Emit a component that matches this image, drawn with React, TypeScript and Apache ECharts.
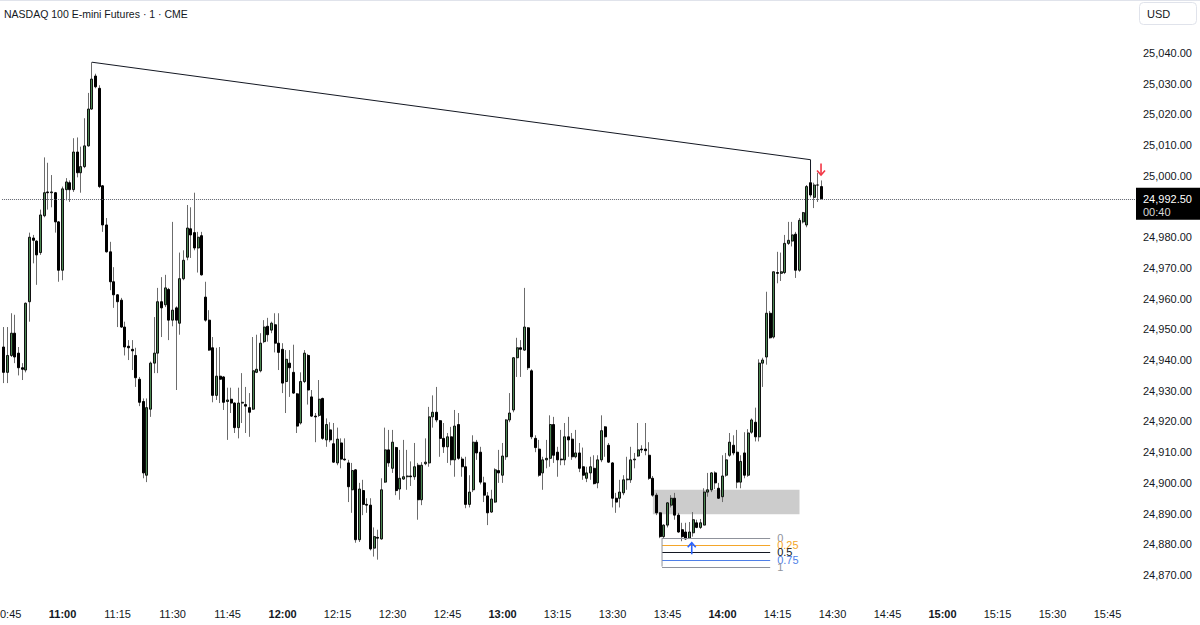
import React, { useEffect, useRef } from "react";
import * as echarts from "echarts";

const FONT = "'Liberation Sans', Arial, Helvetica, sans-serif";
const TEXT = "#131722";

const title = "NASDAQ 100 E-mini Futures · 1 · CME";
const currency = "USD";
const lastPrice = 24992.5;
const countdown = "00:40";
const firstBarMinute = 10 * 60 + 44;
const categoryCount = 309;
const xTickLabels = ["10:45", "11:00", "11:15", "11:30", "11:45", "12:00", "12:15", "12:30", "12:45", "13:00", "13:15", "13:30", "13:45", "14:00", "14:15", "14:30", "14:45", "15:00", "15:15", "15:30", "15:45"];
const boldTickLabels = ["11:00", "12:00", "13:00", "14:00", "15:00"];
const hiddenPriceLabel = 24990;
const maxPriceLabel = 25040;

const opens = [
  24944.25, 24936.0, 24941.5, 24948.75, 24942.25, 24937.5, 24936.75, 24959.0, 24979.75, 24978.75,
  24975.0, 24987.0, 24994.75, 24994.5, 24994.5, 24985.0, 24969.25, 24995.5, 24997.75, 24995.5,
  25007.75, 25001.0, 25003.0, 25009.75, 25021.75, 25032.5, 25028.5, 24996.75, 24984.0, 24975.25,
  24965.5, 24961.25, 24959.5, 24950.75, 24944.5, 24943.5, 24941.5, 24933.75, 24926.5, 24902.5,
  24924.0, 24939.0, 24942.25, 24959.0, 24958.0, 24963.0, 24953.0, 24957.0, 24952.0, 24966.5,
  24973.5, 24982.75, 24981.5, 24976.5, 24980.5, 24960.5, 24953.0, 24944.0, 24928.5, 24934.75,
  24934.5, 24926.5, 24927.25, 24926.0, 24918.0, 24926.0, 24925.5, 24924.5, 24924.0, 24936.0,
  24936.5, 24946.0, 24951.0, 24949.75, 24951.5, 24945.5, 24943.5, 24933.0, 24939.0, 24936.0,
  24929.0, 24919.5, 24933.0, 24941.5, 24928.0, 24921.75, 24922.0, 24927.5, 24914.0, 24917.25,
  24912.75, 24906.5, 24913.0, 24907.75, 24906.5, 24897.75, 24904.25, 24881.5, 24897.5, 24893.0,
  24892.75, 24878.75, 24882.25, 24881.75, 24900.25, 24910.75, 24904.75, 24911.5, 24898.0, 24901.25,
  24902.0, 24902.25, 24902.0, 24905.75, 24894.5, 24906.25, 24906.5, 24921.5, 24923.0, 24920.25,
  24914.5, 24911.75, 24915.0, 24907.5, 24919.0, 24907.75, 24905.25, 24893.0, 24897.75, 24913.25,
  24910.0, 24900.0, 24895.75, 24890.5, 24893.75, 24904.0, 24902.5, 24908.5, 24920.5, 24923.75,
  24940.75, 24944.0, 24943.25, 24950.5, 24936.5, 24914.5, 24911.0, 24903.25, 24907.5, 24908.0,
  24919.0, 24910.0, 24907.75, 24907.5, 24915.0, 24914.25, 24908.5, 24909.75, 24905.25, 24901.5,
  24903.25, 24904.75, 24900.0, 24907.5, 24918.25, 24912.25, 24906.5, 24895.0, 24895.0, 24896.75,
  24901.0, 24901.0, 24907.5, 24908.75, 24911.0, 24911.0, 24909.0, 24901.5, 24896.0, 24890.25,
  24882.5, 24886.25, 24892.75, 24895.0, 24889.5, 24884.75, 24884.0, 24882.0, 24883.75, 24887.0,
  24885.5, 24886.25, 24897.0, 24897.75, 24903.25, 24898.25, 24895.5, 24902.5, 24909.0, 24912.25,
  24910.0, 24900.25, 24909.75, 24902.5, 24916.5, 24919.75, 24915.0, 24939.0, 24941.0, 24955.25,
  24947.5, 24968.5, 24968.25, 24968.5, 24978.0, 24978.75, 24981.0, 24969.25, 24985.0, 24984.0,
  24997.75, 24993.0, 24997.0, 24996.5,
];

const closes = [
  24936.0, 24941.5, 24948.75, 24941.0, 24937.5, 24937.0, 24958.5, 24980.0, 24979.0, 24974.25,
  24987.25, 24994.5, 24994.5, 24994.75, 24985.0, 24969.25, 24995.75, 24998.0, 24995.5, 25007.75,
  25001.0, 25003.0, 25009.75, 25021.75, 25031.5, 25029.0, 24996.5, 24984.0, 24975.25, 24965.5,
  24961.25, 24959.0, 24950.75, 24944.25, 24944.0, 24943.0, 24934.25, 24926.25, 24903.25, 24924.5,
  24939.0, 24942.25, 24959.0, 24957.0, 24963.5, 24953.0, 24956.25, 24953.0, 24966.5, 24972.5,
  24983.0, 24980.75, 24976.5, 24980.0, 24967.75, 24953.0, 24943.25, 24928.5, 24934.75, 24933.75,
  24926.25, 24927.0, 24926.0, 24918.0, 24926.0, 24926.25, 24925.0, 24923.0, 24936.5, 24937.0,
  24945.5, 24950.75, 24948.25, 24952.0, 24945.5, 24942.5, 24932.5, 24940.25, 24937.5, 24929.25,
  24918.5, 24933.0, 24942.25, 24930.25, 24921.75, 24921.5, 24927.25, 24914.5, 24919.0, 24914.0,
  24906.75, 24914.25, 24907.75, 24907.5, 24898.75, 24904.0, 24881.5, 24898.0, 24893.0, 24892.75,
  24878.5, 24882.5, 24882.0, 24897.75, 24910.75, 24906.5, 24913.25, 24897.5, 24901.5, 24902.0,
  24902.25, 24902.0, 24905.25, 24894.5, 24905.75, 24906.75, 24921.5, 24923.0, 24920.5, 24914.5,
  24911.75, 24915.0, 24907.5, 24918.5, 24908.0, 24905.25, 24893.0, 24897.0, 24913.25, 24909.75,
  24900.25, 24896.0, 24890.25, 24894.75, 24904.25, 24903.25, 24908.75, 24920.5, 24922.75, 24940.75,
  24944.0, 24943.5, 24950.75, 24937.5, 24915.0, 24911.5, 24902.5, 24907.5, 24908.0, 24919.0,
  24909.0, 24907.5, 24907.5, 24915.0, 24914.0, 24908.5, 24909.75, 24904.75, 24902.5, 24903.25,
  24905.25, 24899.75, 24907.5, 24917.0, 24915.0, 24906.75, 24895.0, 24893.75, 24897.0, 24901.0,
  24901.25, 24907.5, 24907.75, 24910.75, 24910.75, 24910.5, 24901.5, 24896.0, 24890.25, 24882.5,
  24886.25, 24893.5, 24895.0, 24889.5, 24884.0, 24882.5, 24881.75, 24884.0, 24888.0, 24885.5,
  24887.0, 24897.0, 24897.75, 24903.25, 24900.0, 24895.0, 24902.25, 24907.5, 24913.25, 24909.75,
  24900.25, 24907.0, 24902.5, 24916.25, 24920.5, 24915.0, 24939.0, 24940.0, 24955.25, 24947.25,
  24968.75, 24968.25, 24968.75, 24978.0, 24979.0, 24980.75, 24969.25, 24985.5, 24988.0, 24996.5,
  24993.75, 24997.0, 24997.0, 24992.5,
];

const lows = [
  24932.5, 24932.5, 24941.0, 24939.0, 24935.0, 24933.5, 24936.0, 24952.5, 24971.5, 24964.5,
  24974.25, 24986.5, 24989.0, 24989.75, 24981.5, 24965.5, 24966.0, 24992.0, 24991.5, 24994.75,
  24999.5, 24994.5, 25002.5, 25009.5, 25021.5, 25028.5, 24996.0, 24981.75, 24975.0, 24962.75,
  24957.0, 24950.75, 24950.5, 24941.5, 24940.0, 24936.75, 24931.25, 24925.0, 24901.5, 24900.25,
  24921.5, 24935.75, 24935.75, 24947.5, 24957.25, 24946.5, 24951.0, 24930.25, 24948.25, 24966.0,
  24972.5, 24973.25, 24975.75, 24968.5, 24967.5, 24952.5, 24943.0, 24926.25, 24927.0, 24926.0,
  24923.75, 24914.0, 24922.75, 24916.25, 24914.5, 24919.5, 24916.25, 24915.0, 24923.75, 24935.75,
  24936.0, 24945.5, 24946.0, 24948.75, 24942.5, 24936.75, 24929.25, 24922.75, 24928.0, 24929.0,
  24916.25, 24919.0, 24932.5, 24925.5, 24921.5, 24913.25, 24921.5, 24914.0, 24911.75, 24913.25,
  24906.5, 24905.75, 24904.75, 24907.25, 24893.75, 24890.25, 24880.5, 24880.75, 24889.5, 24890.25,
  24878.0, 24876.0, 24875.0, 24881.5, 24900.0, 24905.25, 24903.25, 24896.0, 24894.5, 24901.0,
  24897.75, 24899.0, 24901.0, 24888.0, 24892.75, 24905.75, 24905.25, 24918.0, 24919.75, 24908.5,
  24909.75, 24906.5, 24905.75, 24902.0, 24907.5, 24902.0, 24891.75, 24892.0, 24897.0, 24907.5,
  24899.5, 24893.75, 24886.25, 24890.25, 24893.5, 24900.0, 24900.0, 24907.5, 24919.75, 24923.0,
  24934.5, 24934.5, 24943.0, 24936.75, 24914.25, 24910.0, 24902.0, 24897.75, 24904.75, 24905.25,
  24906.5, 24902.0, 24905.75, 24905.75, 24908.5, 24907.5, 24908.0, 24903.5, 24901.0, 24900.25,
  24901.0, 24899.5, 24898.25, 24906.75, 24908.5, 24906.5, 24892.0, 24890.25, 24892.0, 24896.0,
  24897.75, 24900.0, 24904.75, 24908.5, 24909.75, 24909.0, 24901.0, 24895.5, 24889.5, 24882.0,
  24882.0, 24885.5, 24892.0, 24888.0, 24883.75, 24881.0, 24881.5, 24882.0, 24882.5, 24885.25,
  24885.0, 24886.25, 24895.5, 24897.0, 24898.0, 24894.75, 24893.75, 24902.0, 24908.5, 24909.0,
  24898.25, 24898.25, 24901.5, 24902.0, 24916.0, 24913.5, 24913.5, 24931.25, 24938.5, 24947.0,
  24947.0, 24965.0, 24965.75, 24968.0, 24977.5, 24977.0, 24966.75, 24968.75, 24984.5, 24983.25,
  24993.0, 24989.5, 24991.5, 24992.5,
];

const highs = [
  24950.75, 24950.75, 24955.25, 24954.75, 24944.25, 24939.0, 24958.75, 24981.5, 24980.75, 24979.0,
  24989.0, 25006.0, 25004.25, 25000.25, 24994.75, 24985.25, 24996.5, 24999.25, 24998.5, 25012.25,
  25012.5, 25009.5, 25018.75, 25027.0, 25037.0, 25033.25, 25029.5, 24997.0, 24986.25, 24978.5,
  24970.25, 24961.5, 24960.25, 24952.5, 24946.5, 24946.5, 24944.0, 24934.5, 24927.5, 24927.5,
  24939.5, 24954.0, 24963.5, 24967.0, 24967.75, 24963.5, 24985.0, 24957.5, 24975.0, 24975.75,
  24990.5, 24989.75, 24994.5, 24981.75, 24981.75, 24965.5, 24956.25, 24947.5, 24944.0, 24944.25,
  24934.75, 24931.0, 24931.0, 24926.25, 24931.0, 24935.75, 24931.25, 24929.25, 24947.5, 24948.25,
  24948.75, 24953.0, 24953.75, 24952.5, 24955.25, 24955.25, 24945.5, 24943.25, 24943.25, 24945.0,
  24929.25, 24936.0, 24943.25, 24942.0, 24930.25, 24922.75, 24933.5, 24927.75, 24921.0, 24919.75,
  24919.5, 24918.0, 24914.5, 24914.5, 24907.5, 24906.5, 24904.5, 24900.0, 24901.0, 24895.0,
  24895.0, 24885.5, 24884.75, 24901.5, 24918.0, 24917.25, 24917.25, 24911.75, 24910.75, 24914.0,
  24910.75, 24907.0, 24913.0, 24906.5, 24906.75, 24914.5, 24924.75, 24928.5, 24931.25, 24920.5,
  24919.5, 24916.25, 24918.25, 24923.75, 24922.75, 24908.5, 24908.5, 24902.5, 24915.5, 24914.0,
  24911.75, 24902.0, 24897.0, 24897.75, 24904.75, 24910.75, 24913.0, 24920.75, 24929.25, 24941.0,
  24947.25, 24946.5, 24963.5, 24950.75, 24937.0, 24915.5, 24914.0, 24908.5, 24914.0, 24922.0,
  24921.5, 24911.75, 24917.25, 24919.5, 24921.5, 24916.25, 24917.25, 24913.0, 24911.5, 24905.25,
  24908.5, 24909.0, 24909.0, 24922.0, 24918.5, 24913.0, 24906.75, 24896.75, 24901.0, 24902.5,
  24908.5, 24911.75, 24909.75, 24919.5, 24912.25, 24919.5, 24913.25, 24902.25, 24896.75, 24890.5,
  24886.5, 24893.75, 24896.0, 24896.75, 24890.25, 24887.0, 24887.0, 24887.25, 24890.5, 24888.0,
  24888.25, 24898.25, 24903.25, 24903.5, 24903.75, 24900.0, 24909.0, 24909.75, 24916.25, 24915.5,
  24917.25, 24909.0, 24916.5, 24917.5, 24921.0, 24924.5, 24940.25, 24940.75, 24962.25, 24956.0,
  24968.75, 24975.25, 24975.0, 24980.75, 24985.0, 24985.0, 24981.75, 24986.25, 24988.25, 24997.0,
  24998.0, 24997.75, 25001.0, 24998.5,
];

// drawing annotations (bar index from the first bar, price)
const trendIdx = [24, 220, 220];
const trendPrice = [25037.0, 25005.25, 24998.0];
const zoneIdx = [177, 217];
const zonePrice = [24897.75, 24889.75];
const fibIdx = [179.5, 209];
const fibLabels = ["0", "0.25", "0.5", "0.75", "1"];
const fibPrices = [24882.0, 24879.75, 24877.5, 24875.0, 24872.75];
const fibColors = ["#8f929b", "#f4a62a", "#131722", "#4e7fe8", "#8f929b"];
const downArrowIdx = 223;
const downArrowPrice = [25004.0, 25000.25];
const upArrowIdx = 187.6;
const upArrowPrice = [24880.5, 24876.75];

const UP = "#4b8752";
const WICK = "#6c6c6c";

export default function App() {
  const ref = useRef<HTMLDivElement>(null);

  useEffect(() => {
    const el = ref.current!;
    const chart = echarts.init(el, undefined, { renderer: "svg" });
    const cats = Array.from({ length: categoryCount }, (_, i) => {
      const m = firstBarMinute + i;
      return `${Math.floor(m / 60)}:${String(m % 60).padStart(2, "0")}`;
    });
    const wickData = opens.map((o, i) => [o, closes[i], Math.min(lows[i], o, closes[i]), Math.max(highs[i], o, closes[i])]);
    const bodyData = opens.map((o, i) => [o, closes[i], Math.min(o, closes[i]), Math.max(o, closes[i])]);

    chart.setOption({
      animation: false,
      backgroundColor: "#ffffff",
      grid: { left: 2.1, right: 65, top: 0, bottom: 25, containLabel: false, outerBoundsMode: "none" },
      xAxis: {
        type: "category",
        data: cats,
        boundaryGap: true,
        axisLine: { show: false },
        axisTick: { show: false },
        splitLine: { show: false },
        axisLabel: {
          interval: (_i: number, v: string) => xTickLabels.includes(v),
          formatter: (v: string) => (boldTickLabels.includes(v) ? `{b|${v}}` : v),
          color: TEXT,
          fontSize: 11,
          fontFamily: FONT,
          margin: 8,
          hideOverlap: false,
          rich: { b: { fontWeight: "bold", color: TEXT, fontSize: 11, fontFamily: FONT } },
        },
      },
      yAxis: {
        type: "value",
        position: "right",
        min: 24861.86,
        max: 25057.26,
        splitNumber: 20,
        scale: true,
        axisLine: { show: false },
        axisTick: { show: false },
        splitLine: { show: false },
        axisLabel: {
          showMinLabel: false,
          showMaxLabel: false,
          color: TEXT,
          fontSize: 11,
          fontFamily: FONT,
          margin: 8,
          align: "left",
          formatter: (v: number) =>
            Math.abs(v - hiddenPriceLabel) < 0.01 || v > maxPriceLabel + 0.01
              ? ""
              : v.toLocaleString("en-US", { minimumFractionDigits: 2, maximumFractionDigits: 2 }),
        },
      },
      series: [
        {
          type: "candlestick",
          name: "wicks",
          data: wickData,
          barWidth: 1,
          itemStyle: { color: WICK, color0: WICK, borderColor: WICK, borderColor0: WICK, borderWidth: 1 },
          markArea: {
            silent: true,
            itemStyle: { color: "rgba(0,0,0,0.2)" },
            data: [[{ coord: [cats[zoneIdx[0]], zonePrice[0]] }, { coord: [cats[zoneIdx[1]], zonePrice[1]] }]],
          },
        },
        {
          type: "candlestick",
          name: "bodies",
          data: bodyData,
          barWidth: 2.6,
          itemStyle: { color: UP, color0: "#000000", borderColor: "#111111", borderColor0: "#000000", borderWidth: 1 },
          markLine: {
            silent: true,
            symbol: "none",
            label: { show: false },
            lineStyle: { type: "dotted", color: "#5d606b", width: 1 },
            data: [{ yAxis: lastPrice }],
          },
        },
      ],
    });

    const xa = chart.convertToPixel({ xAxisIndex: 0 }, cats[0]) as number;
    const xb = chart.convertToPixel({ xAxisIndex: 0 }, cats[1]) as number;
    const xAt = (i: number) => xa + i * (xb - xa);
    const yAt = (p: number) => chart.convertToPixel({ yAxisIndex: 0 }, p) as number;

    const txt = (x: number, y: number, text: string, fill: string, size = 11, weight = "normal") => ({
      type: "text",
      x,
      y,
      z: 100,
      silent: true,
      style: {
        text,
        fill,
        fontSize: size,
        fontFamily: FONT,
        fontWeight: weight,
        align: "left",
        verticalAlign: "middle",
      },
    });

    const elements: any[] = [];
    elements.push({ type: "line", z: 100, shape: { x1: 0, y1: 0.5, x2: 1200, y2: 0.5 }, style: { stroke: "#e0e3eb", lineWidth: 1 } });
    elements.push(txt(4, 14, title, TEXT, 10.5));
    elements.push({ type: "rect", z: 100, shape: { x: 1139.5, y: 2.5, width: 57, height: 22, r: 4 }, style: { fill: "#ffffff", stroke: "#e0e3eb", lineWidth: 1 } });
    elements.push(txt(1147, 14, currency, TEXT, 11));

    // trend line
    elements.push({
      type: "polyline",
      z: 100,
      shape: { points: trendIdx.map((i, k) => [xAt(i), yAt(trendPrice[k])]) },
      style: { stroke: TEXT, lineWidth: 1, fill: "none" },
    });

    // fib retracement
    const fx0 = xAt(fibIdx[0]);
    const fx1 = xAt(fibIdx[1]);
    fibPrices.forEach((p, k) => {
      const y = Math.round(yAt(p)) + 0.5;
      elements.push({ type: "line", z: 100, shape: { x1: fx0, y1: y, x2: fx1, y2: y }, style: { stroke: fibColors[k], lineWidth: 1 } });
    });
    elements.push({
      type: "line",
      z: 100,
      shape: { x1: fx0, y1: yAt(fibPrices[0]), x2: fx0, y2: yAt(fibPrices[fibPrices.length - 1]) },
      style: { stroke: "#8f929b", lineWidth: 1 },
    });
    fibPrices.forEach((p, k) => {
      elements.push(txt(fx1 + 7, yAt(p), fibLabels[k], fibColors[k], 11));
    });

    // arrows
    const dx = xAt(downArrowIdx) - 0.5;
    const dTop = yAt(downArrowPrice[0]);
    const dTip = yAt(downArrowPrice[1]);
    elements.push({ type: "polyline", z: 100, shape: { points: [[dx, dTop], [dx, dTip]] }, style: { stroke: "#f23645", lineWidth: 1.6, fill: "none" } });
    elements.push({ type: "polyline", z: 100, shape: { points: [[dx - 4, dTip - 4.5], [dx, dTip], [dx + 4, dTip - 4.5]] }, style: { stroke: "#f23645", lineWidth: 1.6, fill: "none" } });

    const ux = xAt(upArrowIdx);
    const uTip = yAt(upArrowPrice[0]);
    const uTail = yAt(upArrowPrice[1]);
    elements.push({ type: "polyline", z: 100, shape: { points: [[ux, uTail], [ux, uTip]] }, style: { stroke: "#2962ff", lineWidth: 1.6, fill: "none" } });
    elements.push({ type: "polyline", z: 100, shape: { points: [[ux - 4, uTip + 4.5], [ux, uTip], [ux + 4, uTip + 4.5]] }, style: { stroke: "#2962ff", lineWidth: 1.6, fill: "none" } });

    // last price tag
    const py = yAt(lastPrice);
    elements.push({ type: "rect", z: 100, shape: { x: 1136, y: py - 11, width: 64, height: 32 }, style: { fill: "#000000" } });
    elements.push(txt(1143, py, lastPrice.toLocaleString("en-US", { minimumFractionDigits: 2 }), "#ffffff", 11));
    elements.push(txt(1143, py + 13, countdown, "#d6d6d6", 11));

    chart.setOption({ graphic: { elements } });

    return () => chart.dispose();
  }, []);

  return (
    <div
      ref={ref}
      style={{ position: "fixed", left: 0, top: 0, width: 1200, height: 625, background: "#ffffff" }}
    />
  );
}
